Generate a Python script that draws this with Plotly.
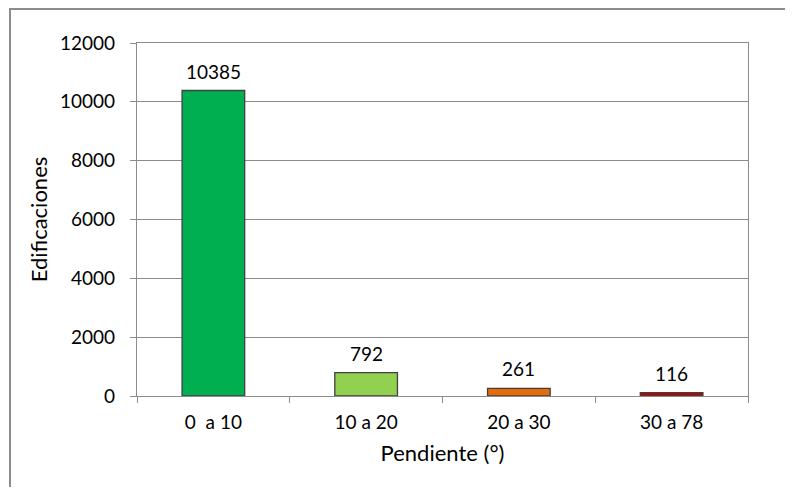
import plotly.graph_objects as go

categories = ["0  a 10", "10 a 20", "20 a 30", "30 a 78"]
values = [10385, 792, 261, 116]
colors = ["#00B050", "#92D050", "#E46C0A", "#C00000"]
y_ticks = [0, 2000, 4000, 6000, 8000, 10000, 12000]

FONT = "Lato"
FS = 19
TFS = 22
# page has an 8px body margin, so figure coordinates are shifted by 8px
W, H = 777, 479
L, T = 129, 35
pw, ph = 611, 353
R, B = W - L - pw, H - T - ph

fig = go.Figure()
fig.add_trace(go.Bar(
    x=categories, y=values,
    marker=dict(color=colors, line=dict(color="#404040", width=1.3)),
    width=0.41,
    hoverinfo="skip",
))

for c, v in zip(categories, values):
    fig.add_annotation(x=c, y=v, xref="x", yref="y", text=str(v), showarrow=False,
                       yanchor="bottom", yshift=6,
                       font=dict(family=FONT, size=FS, color="#000000"))

# outer chart border
fig.add_shape(type="rect", xref="paper", yref="paper",
              x0=(2 - L) / pw, x1=(W + 30 - L) / pw,
              y0=(T + ph - (H + 30)) / ph, y1=(T + ph - 1) / ph,
              line=dict(color="#8C8C8C", width=2), fillcolor="rgba(0,0,0,0)", layer="below")

fig.update_layout(
    width=W, height=H,
    margin=dict(l=L, r=R, t=T, b=B, pad=0),
    paper_bgcolor="white", plot_bgcolor="white",
    showlegend=False,
    font=dict(family=FONT, size=FS, color="#000000"),
    xaxis=dict(
        type="category", tickson="boundaries", ticks="outside", ticklen=6,
        tickcolor="#8C8C8C", tickwidth=1.3,
        showline=True, linecolor="#8C8C8C", linewidth=1.3, mirror=True,
        showgrid=False, ticklabelstandoff=9,
        title=dict(text="Pendiente (°)", standoff=13, font=dict(family=FONT, size=TFS)),
    ),
    yaxis=dict(
        range=[0, 12000], tickvals=y_ticks, ticktext=[str(t) for t in y_ticks],
        ticks="outside", ticklen=6, tickcolor="#8C8C8C", tickwidth=1.3,
        showline=True, linecolor="#8C8C8C", linewidth=1.3, mirror=True,
        showgrid=True, gridcolor="#8C8C8C", gridwidth=1.3,
        zeroline=False, ticklabelstandoff=11,
        title=dict(text="Edificaciones", standoff=6, font=dict(family=FONT, size=TFS)),
    ),
)

fig.write_html("out.html")
